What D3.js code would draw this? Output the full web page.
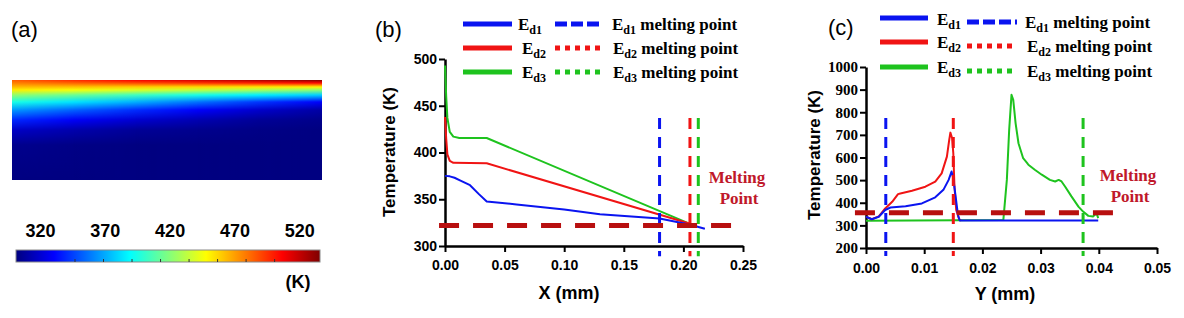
<!DOCTYPE html>
<html>
<head>
<meta charset="utf-8">
<script src="https://cdn.jsdelivr.net/npm/d3@7"></script>
<style>
  body { margin: 0; background: #fff; }
  svg { display: block; }
</style>
</head>
<body>
<svg width="1184" height="318"></svg>
<script>
// ---------- data ----------
// colour bar of panel (a), K
const barRange = [301.5, 536];
const barLabels = [320, 370, 420, 470, 520];
const barMinor = [347, 369, 391, 413, 435, 457, 479, 501];

// temperature field of panel (a): columns across the width, rows down the depth (fractions)
const heatX = [0, 0.2, 0.4, 0.6, 0.8, 1];
const heatZ = [0, 0.03, 0.07, 0.10, 0.15, 0.22, 0.30, 0.40, 0.50, 0.65, 1.0];
const heatT = [
  [485, 477, 464, 452, 423, 395, 366, 340, 318, 305, 302],
  [497, 484, 462, 446, 414, 383, 353, 329, 312, 303, 302],
  [508, 490, 459, 440, 404, 371, 341, 320, 307, 302, 302],
  [517, 495, 456, 434, 395, 357, 330, 313, 305, 302, 302],
  [526, 500, 453, 428, 386, 343, 319, 307, 303, 302, 302],
  [535, 505, 450, 422, 378, 330, 310, 304, 302, 302, 302]
];

const seriesNames = ["d1", "d2", "d3"];
const seriesColors = ["#0a14f0", "#f01414", "#1ec31e"];

// panel (b): temperature along X (mm)
const bX1 = [0, 0.004, 0.008, 0.013, 0.021, 0.028, 0.035, 0.06, 0.1, 0.13, 0.18, 0.205, 0.218];
const bT1 = [375, 374.5, 373, 370, 365, 356, 347.5, 344.5, 339, 334, 329.5, 323, 318.5];
const bX2 = [0, 0.001, 0.002, 0.004, 0.007, 0.035, 0.205];
const bT2 = [438, 415, 398, 391, 389, 388.5, 324];
const bX3 = [0, 0.001, 0.002, 0.004, 0.007, 0.012, 0.035, 0.205];
const bT3 = [493, 460, 437, 422, 417, 415.5, 415.5, 324];
const bMeltX = [0.18, 0.2055, 0.2125];
const bMeltLevel = 322;
const bXTicks = [0, 0.05, 0.10, 0.15, 0.20, 0.25];
const bYTicks = [300, 350, 400, 450, 500];

// panel (c): temperature along Y (mm)
const cX1 = [0, 0.001, 0.0022, 0.0033, 0.0042, 0.0068, 0.0096, 0.0119, 0.0133, 0.0142, 0.0147, 0.015, 0.0154, 0.0158, 0.0161, 0.02, 0.03, 0.0399];
const cT1 = [338, 327, 338, 368, 379, 385, 397, 424, 457, 501, 538, 508, 427, 346, 322, 321, 321, 321];
const cX2 = [0, 0.001, 0.0022, 0.0033, 0.0045, 0.0055, 0.0059, 0.0079, 0.0102, 0.0119, 0.013, 0.0139, 0.0143, 0.0145, 0.0148, 0.015, 0.0152, 0.0155, 0.016, 0.0163];
const cT2 = [338, 327, 340, 375, 404, 438, 441, 453, 471, 493, 530, 604, 678, 710, 685, 619, 471, 368, 327, 321];
const cX3 = [0, 0.0236, 0.0242, 0.0246, 0.0250, 0.0253, 0.0257, 0.0262, 0.0270, 0.0277, 0.0279, 0.0290, 0.0302, 0.0316, 0.0325, 0.0331, 0.0336, 0.0342, 0.0353, 0.0365, 0.0373, 0.0382, 0.0390, 0.0396, 0.0399];
const cT3 = [320, 324, 501, 722, 877, 855, 752, 663, 597, 575, 568, 546, 524, 501, 494, 501, 494, 472, 428, 383, 361, 342, 339, 354, 332];
const cMeltX = [0.0034, 0.015, 0.0373];
const cMeltLevel = 356;
const cXTicks = [0, 0.01, 0.02, 0.03, 0.04, 0.05];
const cYTicks = [200, 300, 400, 500, 600, 700, 800, 900, 1000];

// ---------- drawing ----------
const SANS = "'Liberation Sans', Arial, sans-serif";
const SERIF = "'Liberation Serif', 'Times New Roman', serif";
const MELT_RED = "#b80f0f";
const svg = d3.select("svg");
const defs = svg.append("defs");

const jetStops = [0, 0.125, 0.375, 0.625, 0.875, 1];
const jetColors = ["#00007f", "#0000ff", "#00ffff", "#ffff00", "#ff0000", "#7f0000"];
const jet = d3.scaleLinear()
  .domain(jetStops.map(f => barRange[0] + f * (barRange[1] - barRange[0])))
  .range(jetColors)
  .clamp(true);

function panelLabel(x, y, txt) {
  svg.append("text").attr("x", x).attr("y", y)
    .attr("font-family", SANS).attr("font-size", 22).text(txt);
}

// ----- panel (a) -----
panelLabel(11, 37, "(a)");

const hx = d3.scaleLinear().domain([0, 1]).range([12, 322]);
const hz = d3.scaleLinear().domain([0, 1]).range([80, 180]);

// vertical gradient for every column of the field
heatX.forEach((cx, i) => {
  const g = defs.append("linearGradient").attr("id", "heat" + i)
    .attr("x1", 0).attr("y1", 0).attr("x2", 0).attr("y2", 1);
  heatZ.forEach((z, j) => {
    g.append("stop").attr("offset", z).attr("stop-color", jet(heatT[i][j]));
  });
});
// horizontal fade, so neighbouring columns blend across each interval
const fade = defs.append("linearGradient").attr("id", "fade");
fade.append("stop").attr("offset", 0).attr("stop-color", "#000");
fade.append("stop").attr("offset", 1).attr("stop-color", "#fff");
defs.append("mask").attr("id", "fadeMask").attr("maskContentUnits", "objectBoundingBox")
  .append("rect").attr("width", 1).attr("height", 1).attr("fill", "url(#fade)");

const heat = svg.append("g").attr("shape-rendering", "crispEdges");
d3.pairs(d3.range(heatX.length)).forEach(([i, k]) => {
  const x0 = Math.round(hx(heatX[i])), x1 = Math.round(hx(heatX[k]));
  heat.append("rect").attr("x", x0).attr("y", hz(0)).attr("width", x1 - x0)
    .attr("height", hz(1) - hz(0)).attr("fill", "url(#heat" + i + ")");
  heat.append("rect").attr("x", x0).attr("y", hz(0)).attr("width", x1 - x0)
    .attr("height", hz(1) - hz(0)).attr("fill", "url(#heat" + k + ")")
    .attr("mask", "url(#fadeMask)");
});

// colour bar
const bx = d3.scaleLinear().domain(barRange).range([16, 320]);
const barGrad = defs.append("linearGradient").attr("id", "jetbar");
jetStops.forEach((f, i) => barGrad.append("stop").attr("offset", f).attr("stop-color", jetColors[i]));
svg.append("rect").attr("x", bx(barRange[0])).attr("y", 250)
  .attr("width", bx(barRange[1]) - bx(barRange[0])).attr("height", 12)
  .attr("fill", "url(#jetbar)").attr("stroke", "#8a8a8a").attr("stroke-width", 1);
svg.append("g").selectAll("line").data(barMinor).join("line")
  .attr("x1", d => bx(d)).attr("x2", d => bx(d))
  .attr("y1", 259).attr("y2", 262)
  .attr("stroke", "#333").attr("stroke-width", 1);

const barAxis = svg.append("g").attr("transform", "translate(0,237)")
  .call(d3.axisTop(bx).tickValues(barLabels).tickSize(0).tickPadding(0));
barAxis.select(".domain").remove();
barAxis.attr("font-family", SANS).attr("font-size", 18).attr("font-weight", "bold");
barAxis.selectAll("text").attr("fill", "#000");

svg.append("text").attr("x", 298).attr("y", 288).attr("text-anchor", "middle")
  .attr("font-family", SANS).attr("font-size", 18).attr("font-weight", "bold").text("(K)");

// ----- line panels -----
function eLabel(g, x, y, name, suffix) {
  const t = g.append("text").attr("x", x).attr("y", y)
    .attr("font-family", SERIF).attr("font-size", 17).attr("font-weight", "bold");
  t.append("tspan").text("E");
  t.append("tspan").attr("dy", 4).attr("font-size", 12).text(name);
  if (suffix) t.append("tspan").attr("dy", -4).text(" " + suffix);
}

function drawPanel(p) {
  const x = d3.scaleLinear().domain(p.xDomain).range(p.xRange);
  const y = d3.scaleLinear().domain(p.yDomain).range(p.yRange);
  const g = svg.append("g");

  const xa = g.append("g").attr("transform", `translate(0,${p.yRange[0]})`)
    .call(d3.axisBottom(x).tickValues(p.xTicks).tickFormat(d3.format(".2f"))
      .tickSize(6).tickSizeOuter(0).tickPadding(p.xPad));
  const ya = g.append("g").attr("transform", `translate(${p.xRange[0]},0)`)
    .call(d3.axisLeft(y).tickValues(p.yTicks).tickFormat(d3.format("d"))
      .tickSize(6).tickSizeOuter(0).tickPadding(2));
  [xa, ya].forEach(a => {
    a.select(".domain").attr("stroke-width", 2.5);
    a.selectAll(".tick line").attr("stroke-width", 2);
    a.attr("font-weight", "bold");
  });
  xa.attr("font-family", SANS).attr("font-size", 14);
  ya.attr("font-family", p.yFont).attr("font-size", p.yFontSize);

  // axis titles
  g.append("text").attr("x", p.xTitlePos[0]).attr("y", p.xTitlePos[1]).attr("text-anchor", "middle")
    .attr("font-family", SANS).attr("font-size", 18).attr("font-weight", "bold").text(p.xTitle);
  g.append("text")
    .attr("transform", `translate(${p.yTitlePos[0]},${p.yTitlePos[1]}) rotate(-90)`)
    .attr("text-anchor", "middle")
    .attr("font-family", SANS).attr("font-size", 17).attr("font-weight", "bold").text("Temperature (K)");

  // curves
  const line = d3.line().x(d => x(d[0])).y(d => y(d[1]));
  [2, 1, 0].forEach(i => {
    const pts = d3.zip(p.xs[i], p.ts[i]);
    g.append("path").datum(pts).attr("d", line)
      .attr("fill", "none").attr("stroke", seriesColors[i]).attr("stroke-width", 2)
      .attr("stroke-linejoin", "round");
  });

  // melting point verticals
  g.append("g").selectAll("line").data(p.meltX).join("line")
    .attr("x1", d => x(d)).attr("x2", d => x(d))
    .attr("y1", y(p.vSpan[1])).attr("y2", y(p.vSpan[0]))
    .attr("stroke", (d, i) => seriesColors[i]).attr("stroke-width", 3)
    .attr("stroke-dasharray", "11,8");

  // melting level
  g.append("line")
    .attr("x1", x(p.hSpan[0])).attr("x2", x(p.hSpan[1]))
    .attr("y1", y(p.meltLevel)).attr("y2", y(p.meltLevel))
    .attr("stroke", MELT_RED).attr("stroke-width", 5).attr("stroke-dasharray", "20,14");

  const mt = g.append("g").attr("font-family", SERIF).attr("font-size", 17)
    .attr("font-weight", "bold").attr("fill", "#c0182a").attr("text-anchor", "middle");
  mt.append("text").attr("x", p.meltText[0]).attr("y", p.meltText[1]).text("Melting");
  mt.append("text").attr("x", p.meltText[0] + 2).attr("y", p.meltText[1] + 21).text("Point");

  // legend
  const lg = g.append("g");
  seriesNames.forEach((n, i) => {
    const L = p.legend;
    lg.append("line").attr("x1", L.solid[0]).attr("x2", L.solid[1])
      .attr("y1", L.rows[i]).attr("y2", L.rows[i])
      .attr("stroke", seriesColors[i]).attr("stroke-width", 5);
    eLabel(lg, L.nameX[i], L.nameY[i], n);
    lg.append("line").attr("x1", L.dash[0]).attr("x2", L.dash[1])
      .attr("y1", L.dashRows[i]).attr("y2", L.dashRows[i])
      .attr("stroke", seriesColors[i]).attr("stroke-width", 5)
      .attr("stroke-dasharray", i === 0 ? "12,4" : "5,5");
    eLabel(lg, L.meltX[i], L.meltY[i], n, "melting point");
  });
}

panelLabel(375, 37, "(b)");
drawPanel({
  xDomain: [0, 0.25], xRange: [445, 743],
  yDomain: [300, 500], yRange: [246, 59],
  xTicks: bXTicks, yTicks: bYTicks, xPad: 8,
  yFont: SANS, yFontSize: 14,
  xTitle: "X (mm)", xTitlePos: [569, 299], yTitlePos: [395, 152],
  xs: [bX1, bX2, bX3], ts: [bT1, bT2, bT3],
  meltX: bMeltX, vSpan: [289, 437],
  meltLevel: bMeltLevel, hSpan: [-0.005, 0.246],
  meltText: [737, 183],
  legend: {
    solid: [463, 512], rows: [24, 48, 72],
    nameX: [518, 522, 522], nameY: [30, 54, 78],
    dash: [555, 602], dashRows: [24, 48, 72],
    meltX: [612, 613, 613], meltY: [30, 54, 78]
  }
});

panelLabel(828, 35, "(c)");
drawPanel({
  xDomain: [0, 0.05], xRange: [866, 1157],
  yDomain: [200, 1000], yRange: [248, 67],
  xTicks: cXTicks, yTicks: cYTicks, xPad: 9,
  yFont: SERIF, yFontSize: 15,
  xTitle: "Y (mm)", xTitlePos: [1005, 300], yTitlePos: [820, 155],
  xs: [cX1, cX2, cX3], ts: [cT1, cT2, cT3],
  meltX: cMeltX, vSpan: [165, 775],
  meltLevel: cMeltLevel, hSpan: [-0.0019, 0.0436],
  meltText: [1128, 181],
  legend: {
    solid: [880, 928], rows: [18, 42, 67],
    nameX: [937, 937, 937], nameY: [25, 48, 73],
    dash: [967, 1017], dashRows: [22, 46, 71],
    meltX: [1025, 1027, 1027], meltY: [28, 52, 77]
  }
});
</script>
</body>
</html>
